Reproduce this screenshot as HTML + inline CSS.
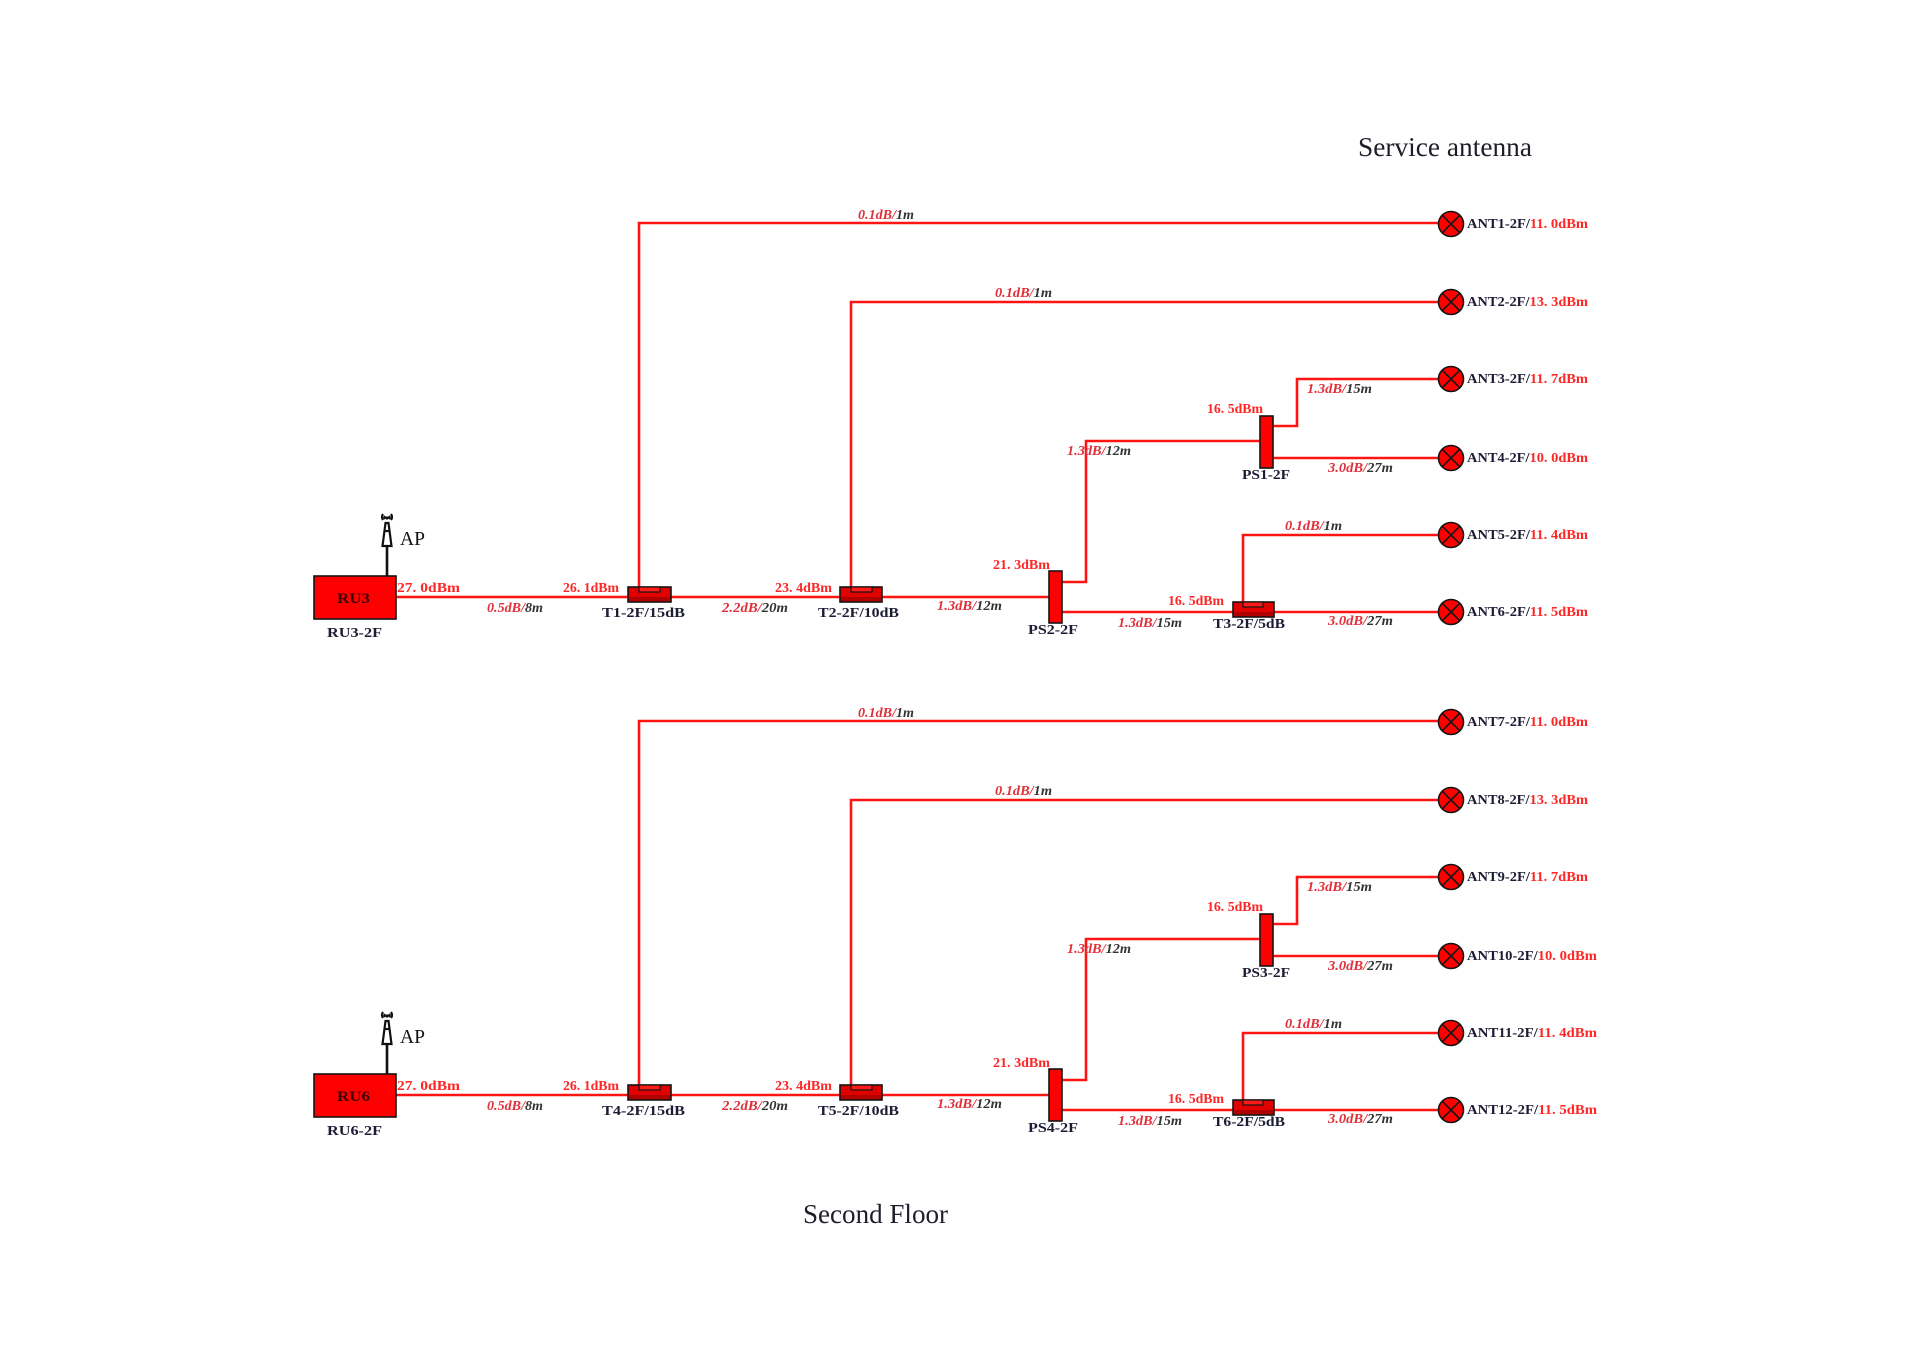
<!DOCTYPE html>
<html>
<head>
<meta charset="utf-8">
<style>
html,body{margin:0;padding:0;background:#fff;}
svg{display:block;}
.t{font-family:"Liberation Serif",serif;font-size:27px;fill:#1e1e2a;}
.r{font-family:"Liberation Serif","Noto Serif CJK SC",serif;font-size:14px;fill:#ff2626;font-weight:bold;}
.d{font-family:"Liberation Serif","Noto Serif CJK SC",serif;font-size:14px;fill:#1c1c34;font-weight:bold;}
.i{font-family:"Liberation Serif",serif;font-size:14px;font-style:italic;fill:#333;font-weight:bold;}
.ir{fill:#e0303a;}
.ap{font-family:"Liberation Serif",serif;font-size:20px;fill:#111;}
.ru{font-family:"Liberation Serif",serif;font-size:15px;fill:#3a0000;font-weight:bold;}
.ln{fill:none;stroke:#ff1414;stroke-width:2.6;}
.bx{fill:#ff0000;stroke:#141414;stroke-width:1.6;}
.tb{fill:#e00000;stroke:#141414;stroke-width:1.6;}
.tbl{fill:#b00000;stroke:none;}
.nt{fill:#ff1a1a;stroke:#141414;stroke-width:1.2;}
.ant{fill:#ff0000;stroke:#141414;stroke-width:1.6;}
.x{stroke:#141414;stroke-width:1.6;}
.blk{fill:none;stroke:#111;stroke-width:2.2;}
</style>
</head>
<body>
<svg width="1920" height="1358" viewBox="0 0 1920 1358" xmlns="http://www.w3.org/2000/svg">

<text class="t" x="1358" y="156" textLength="174" lengthAdjust="spacingAndGlyphs">Service antenna</text>
<text class="t" x="803" y="1223" textLength="145" lengthAdjust="spacingAndGlyphs">Second Floor</text>

<!-- ================= UPPER (RU3) ================= -->
<g>
<path class="ln" d="M396 597 H1049"/>
<path class="ln" d="M639 588 V223 H1438"/>
<path class="ln" d="M851 588 V302 H1438"/>
<path class="ln" d="M1062 582 H1086 V441 H1260"/>
<path class="ln" d="M1273 426 H1297 V379 H1438"/>
<path class="ln" d="M1273 458 H1438"/>
<path class="ln" d="M1062 612 H1438"/>
<path class="ln" d="M1243 603 V535 H1438"/>

<rect class="bx" x="314" y="576" width="82" height="43" stroke-width="2"/>
<text class="ru" x="337" y="603" textLength="33" lengthAdjust="spacingAndGlyphs">RU3</text>
<text class="d" x="327" y="637" textLength="55" lengthAdjust="spacingAndGlyphs">RU3-2F</text>

<path d="M387 547 V576" stroke="#111" stroke-width="2.6"/>
<path class="blk" d="M385.5 523 L382.5 546 L391.5 546 L388.5 523 Z"/>
<path class="blk" d="M384 531 H390" stroke-width="1.5"/>
<path class="blk" d="M383 514 q-2 3 0 6 M391 514 q2 3 0 6 M385 516 q-1 1.5 0 3 M389 516 q1 1.5 0 3" stroke-width="1.4"/>
<circle cx="387" cy="518" r="1.6" fill="#111"/>
<text class="ap" x="400" y="545" textLength="25" lengthAdjust="spacingAndGlyphs">AP</text>

<rect class="tb" x="628" y="587" width="43" height="15"/>
<rect class="tbl" x="629" y="597" width="41" height="4"/>
<rect class="nt" x="639" y="587" width="21" height="5"/>
<rect class="tb" x="840" y="587" width="42" height="15"/>
<rect class="tbl" x="841" y="597" width="40" height="4"/>
<rect class="nt" x="851" y="587" width="21" height="5"/>
<rect class="tb" x="1233" y="602" width="41" height="15"/>
<rect class="tbl" x="1234" y="612" width="39" height="4"/>
<rect class="nt" x="1243" y="602" width="20" height="5"/>
<rect class="bx" x="1049" y="571" width="13" height="52"/>
<rect class="bx" x="1260" y="416" width="13" height="52"/>

<g>
<circle class="ant" cx="1451" cy="224" r="12.5"/><path class="x" d="M1442.2 215.2 L1459.8 232.8 M1459.8 215.2 L1442.2 232.8"/>
<circle class="ant" cx="1451" cy="302" r="12.5"/><path class="x" d="M1442.2 293.2 L1459.8 310.8 M1459.8 293.2 L1442.2 310.8"/>
<circle class="ant" cx="1451" cy="379" r="12.5"/><path class="x" d="M1442.2 370.2 L1459.8 387.8 M1459.8 370.2 L1442.2 387.8"/>
<circle class="ant" cx="1451" cy="458" r="12.5"/><path class="x" d="M1442.2 449.2 L1459.8 466.8 M1459.8 449.2 L1442.2 466.8"/>
<circle class="ant" cx="1451" cy="535" r="12.5"/><path class="x" d="M1442.2 526.2 L1459.8 543.8 M1459.8 526.2 L1442.2 543.8"/>
<circle class="ant" cx="1451" cy="612" r="12.5"/><path class="x" d="M1442.2 603.2 L1459.8 620.8 M1459.8 603.2 L1442.2 620.8"/>
</g>

<text class="d" x="1467" y="228" textLength="121" lengthAdjust="spacingAndGlyphs">ANT1-2F/<tspan class="r">11. 0dBm</tspan></text>
<text class="d" x="1467" y="306" textLength="121" lengthAdjust="spacingAndGlyphs">ANT2-2F/<tspan class="r">13. 3dBm</tspan></text>
<text class="d" x="1467" y="383" textLength="121" lengthAdjust="spacingAndGlyphs">ANT3-2F/<tspan class="r">11. 7dBm</tspan></text>
<text class="d" x="1467" y="462" textLength="121" lengthAdjust="spacingAndGlyphs">ANT4-2F/<tspan class="r">10. 0dBm</tspan></text>
<text class="d" x="1467" y="539" textLength="121" lengthAdjust="spacingAndGlyphs">ANT5-2F/<tspan class="r">11. 4dBm</tspan></text>
<text class="d" x="1467" y="616" textLength="121" lengthAdjust="spacingAndGlyphs">ANT6-2F/<tspan class="r">11. 5dBm</tspan></text>

<text class="r" x="397" y="592" textLength="63" lengthAdjust="spacingAndGlyphs">27. 0dBm</text>
<text class="r" x="563" y="592" textLength="56" lengthAdjust="spacingAndGlyphs">26. 1dBm</text>
<text class="r" x="775" y="592" textLength="57" lengthAdjust="spacingAndGlyphs">23. 4dBm</text>
<text class="r" x="993" y="569" textLength="57" lengthAdjust="spacingAndGlyphs">21. 3dBm</text>
<text class="r" x="1207" y="413" textLength="56" lengthAdjust="spacingAndGlyphs">16. 5dBm</text>
<text class="r" x="1168" y="605" textLength="56" lengthAdjust="spacingAndGlyphs">16. 5dBm</text>

<text class="d" x="602" y="617" textLength="83" lengthAdjust="spacingAndGlyphs">T1-2F/15dB</text>
<text class="d" x="818" y="617" textLength="81" lengthAdjust="spacingAndGlyphs">T2-2F/10dB</text>
<text class="d" x="1028" y="634" textLength="50" lengthAdjust="spacingAndGlyphs">PS2-2F</text>
<text class="d" x="1242" y="479" textLength="48" lengthAdjust="spacingAndGlyphs">PS1-2F</text>
<text class="d" x="1213" y="628" textLength="72" lengthAdjust="spacingAndGlyphs">T3-2F/5dB</text>

<text class="i" x="487" y="612" textLength="56" lengthAdjust="spacingAndGlyphs"><tspan class="ir">0.5dB/</tspan>8m</text>
<text class="i" x="722" y="612" textLength="66" lengthAdjust="spacingAndGlyphs"><tspan class="ir">2.2dB/</tspan>20m</text>
<text class="i" x="937" y="610" textLength="65" lengthAdjust="spacingAndGlyphs"><tspan class="ir">1.3dB/</tspan>12m</text>
<text class="i" x="1067" y="455" textLength="64" lengthAdjust="spacingAndGlyphs"><tspan class="ir">1.3dB/</tspan>12m</text>
<text class="i" x="1118" y="627" textLength="64" lengthAdjust="spacingAndGlyphs"><tspan class="ir">1.3dB/</tspan>15m</text>
<text class="i" x="1307" y="393" textLength="65" lengthAdjust="spacingAndGlyphs"><tspan class="ir">1.3dB/</tspan>15m</text>
<text class="i" x="1328" y="472" textLength="65" lengthAdjust="spacingAndGlyphs"><tspan class="ir">3.0dB/</tspan>27m</text>
<text class="i" x="1285" y="530" textLength="57" lengthAdjust="spacingAndGlyphs"><tspan class="ir">0.1dB/</tspan>1m</text>
<text class="i" x="1328" y="625" textLength="65" lengthAdjust="spacingAndGlyphs"><tspan class="ir">3.0dB/</tspan>27m</text>
<text class="i" x="858" y="219" textLength="56" lengthAdjust="spacingAndGlyphs"><tspan class="ir">0.1dB/</tspan>1m</text>
<text class="i" x="995" y="297" textLength="57" lengthAdjust="spacingAndGlyphs"><tspan class="ir">0.1dB/</tspan>1m</text>
</g>

<!-- ================= LOWER (RU6) +498 ================= -->
<g>
<path class="ln" d="M396 1095 H1049"/>
<path class="ln" d="M639 1086 V721 H1438"/>
<path class="ln" d="M851 1086 V800 H1438"/>
<path class="ln" d="M1062 1080 H1086 V939 H1260"/>
<path class="ln" d="M1273 924 H1297 V877 H1438"/>
<path class="ln" d="M1273 956 H1438"/>
<path class="ln" d="M1062 1110 H1438"/>
<path class="ln" d="M1243 1101 V1033 H1438"/>

<rect class="bx" x="314" y="1074" width="82" height="43" stroke-width="2"/>
<text class="ru" x="337" y="1101" textLength="33" lengthAdjust="spacingAndGlyphs">RU6</text>
<text class="d" x="327" y="1135" textLength="55" lengthAdjust="spacingAndGlyphs">RU6-2F</text>

<path d="M387 1045 V1074" stroke="#111" stroke-width="2.6"/>
<path class="blk" d="M385.5 1021 L382.5 1044 L391.5 1044 L388.5 1021 Z"/>
<path class="blk" d="M384 1029 H390" stroke-width="1.5"/>
<path class="blk" d="M383 1012 q-2 3 0 6 M391 1012 q2 3 0 6 M385 1014 q-1 1.5 0 3 M389 1014 q1 1.5 0 3" stroke-width="1.4"/>
<circle cx="387" cy="1016" r="1.6" fill="#111"/>
<text class="ap" x="400" y="1043" textLength="25" lengthAdjust="spacingAndGlyphs">AP</text>

<rect class="tb" x="628" y="1085" width="43" height="15"/>
<rect class="tbl" x="629" y="1095" width="41" height="4"/>
<rect class="nt" x="639" y="1085" width="21" height="5"/>
<rect class="tb" x="840" y="1085" width="42" height="15"/>
<rect class="tbl" x="841" y="1095" width="40" height="4"/>
<rect class="nt" x="851" y="1085" width="21" height="5"/>
<rect class="tb" x="1233" y="1100" width="41" height="15"/>
<rect class="tbl" x="1234" y="1110" width="39" height="4"/>
<rect class="nt" x="1243" y="1100" width="20" height="5"/>
<rect class="bx" x="1049" y="1069" width="13" height="52"/>
<rect class="bx" x="1260" y="914" width="13" height="52"/>

<g>
<circle class="ant" cx="1451" cy="722" r="12.5"/><path class="x" d="M1442.2 713.2 L1459.8 730.8 M1459.8 713.2 L1442.2 730.8"/>
<circle class="ant" cx="1451" cy="800" r="12.5"/><path class="x" d="M1442.2 791.2 L1459.8 808.8 M1459.8 791.2 L1442.2 808.8"/>
<circle class="ant" cx="1451" cy="877" r="12.5"/><path class="x" d="M1442.2 868.2 L1459.8 885.8 M1459.8 868.2 L1442.2 885.8"/>
<circle class="ant" cx="1451" cy="956" r="12.5"/><path class="x" d="M1442.2 947.2 L1459.8 964.8 M1459.8 947.2 L1442.2 964.8"/>
<circle class="ant" cx="1451" cy="1033" r="12.5"/><path class="x" d="M1442.2 1024.2 L1459.8 1041.8 M1459.8 1024.2 L1442.2 1041.8"/>
<circle class="ant" cx="1451" cy="1110" r="12.5"/><path class="x" d="M1442.2 1101.2 L1459.8 1118.8 M1459.8 1101.2 L1442.2 1118.8"/>
</g>

<text class="d" x="1467" y="726" textLength="121" lengthAdjust="spacingAndGlyphs">ANT7-2F/<tspan class="r">11. 0dBm</tspan></text>
<text class="d" x="1467" y="804" textLength="121" lengthAdjust="spacingAndGlyphs">ANT8-2F/<tspan class="r">13. 3dBm</tspan></text>
<text class="d" x="1467" y="881" textLength="121" lengthAdjust="spacingAndGlyphs">ANT9-2F/<tspan class="r">11. 7dBm</tspan></text>
<text class="d" x="1467" y="960" textLength="130" lengthAdjust="spacingAndGlyphs">ANT10-2F/<tspan class="r">10. 0dBm</tspan></text>
<text class="d" x="1467" y="1037" textLength="130" lengthAdjust="spacingAndGlyphs">ANT11-2F/<tspan class="r">11. 4dBm</tspan></text>
<text class="d" x="1467" y="1114" textLength="130" lengthAdjust="spacingAndGlyphs">ANT12-2F/<tspan class="r">11. 5dBm</tspan></text>

<text class="r" x="397" y="1090" textLength="63" lengthAdjust="spacingAndGlyphs">27. 0dBm</text>
<text class="r" x="563" y="1090" textLength="56" lengthAdjust="spacingAndGlyphs">26. 1dBm</text>
<text class="r" x="775" y="1090" textLength="57" lengthAdjust="spacingAndGlyphs">23. 4dBm</text>
<text class="r" x="993" y="1067" textLength="57" lengthAdjust="spacingAndGlyphs">21. 3dBm</text>
<text class="r" x="1207" y="911" textLength="56" lengthAdjust="spacingAndGlyphs">16. 5dBm</text>
<text class="r" x="1168" y="1103" textLength="56" lengthAdjust="spacingAndGlyphs">16. 5dBm</text>

<text class="d" x="602" y="1115" textLength="83" lengthAdjust="spacingAndGlyphs">T4-2F/15dB</text>
<text class="d" x="818" y="1115" textLength="81" lengthAdjust="spacingAndGlyphs">T5-2F/10dB</text>
<text class="d" x="1028" y="1132" textLength="50" lengthAdjust="spacingAndGlyphs">PS4-2F</text>
<text class="d" x="1242" y="977" textLength="48" lengthAdjust="spacingAndGlyphs">PS3-2F</text>
<text class="d" x="1213" y="1126" textLength="72" lengthAdjust="spacingAndGlyphs">T6-2F/5dB</text>

<text class="i" x="487" y="1110" textLength="56" lengthAdjust="spacingAndGlyphs"><tspan class="ir">0.5dB/</tspan>8m</text>
<text class="i" x="722" y="1110" textLength="66" lengthAdjust="spacingAndGlyphs"><tspan class="ir">2.2dB/</tspan>20m</text>
<text class="i" x="937" y="1108" textLength="65" lengthAdjust="spacingAndGlyphs"><tspan class="ir">1.3dB/</tspan>12m</text>
<text class="i" x="1067" y="953" textLength="64" lengthAdjust="spacingAndGlyphs"><tspan class="ir">1.3dB/</tspan>12m</text>
<text class="i" x="1118" y="1125" textLength="64" lengthAdjust="spacingAndGlyphs"><tspan class="ir">1.3dB/</tspan>15m</text>
<text class="i" x="1307" y="891" textLength="65" lengthAdjust="spacingAndGlyphs"><tspan class="ir">1.3dB/</tspan>15m</text>
<text class="i" x="1328" y="970" textLength="65" lengthAdjust="spacingAndGlyphs"><tspan class="ir">3.0dB/</tspan>27m</text>
<text class="i" x="1285" y="1028" textLength="57" lengthAdjust="spacingAndGlyphs"><tspan class="ir">0.1dB/</tspan>1m</text>
<text class="i" x="1328" y="1123" textLength="65" lengthAdjust="spacingAndGlyphs"><tspan class="ir">3.0dB/</tspan>27m</text>
<text class="i" x="858" y="717" textLength="56" lengthAdjust="spacingAndGlyphs"><tspan class="ir">0.1dB/</tspan>1m</text>
<text class="i" x="995" y="795" textLength="57" lengthAdjust="spacingAndGlyphs"><tspan class="ir">0.1dB/</tspan>1m</text>
</g>

</svg>
</body>
</html>
